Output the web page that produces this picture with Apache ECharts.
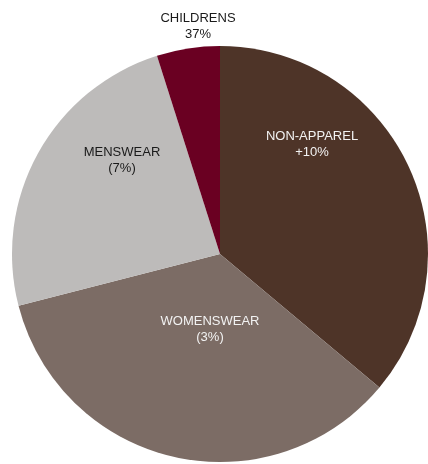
<!DOCTYPE html>
<html><head><meta charset="utf-8">
<script src="https://cdn.jsdelivr.net/npm/echarts@6/dist/echarts.min.js"></script>
<style>html,body{margin:0;padding:0;background:#fff}#c{width:428px;height:464px}</style>
</head><body><div id="c"></div>
<script>
var categories = ['NON-APPAREL', 'WOMENSWEAR', 'MENSWEAR', 'CHILDRENS'];
var shares = [36.1, 34.9, 24.1, 4.9];
var changeLabels = ['+10%', '(3%)', '(7%)', '37%'];
var colors = ['#4E3428', '#7C6C65', '#BDBBBA', '#6A0022'];
var labelColors = ['#F2F2F2', '#F2F2F2', '#1A1A1A', '#1A1A1A'];
var labelPos = [[312, 144], [210, 329], [122, 160], [198, 26]];

var chart = echarts.init(document.getElementById('c'), null, {renderer: 'canvas'});
chart.setOption({
  animation: false,
  series: [{
    type: 'pie',
    center: [220, 254],
    radius: 208,
    startAngle: 90,
    clockwise: true,
    avoidLabelOverlap: false,
    labelLine: {show: false},
    itemStyle: {borderWidth: 0},
    label: {
      show: true,
      position: 'inside',
      fontFamily: 'Liberation Sans, Arial, sans-serif',
      fontSize: 13,
      lineHeight: 16,
      align: 'center'
    },
    labelLayout: function (p) {
      var pos = labelPos[p.dataIndex];
      return {x: pos[0], y: pos[1], align: 'center', verticalAlign: 'middle'};
    },
    data: categories.map(function (c, i) {
      return {
        name: c,
        value: shares[i],
        itemStyle: {color: colors[i]},
        label: {
          color: labelColors[i],
          formatter: c + '\n' + changeLabels[i]
        }
      };
    })
  }]
});
</script>
</body></html>
